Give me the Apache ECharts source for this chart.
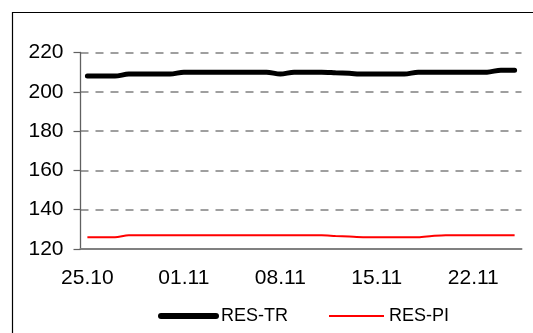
<!DOCTYPE html>
<html>
<head>
<meta charset="utf-8">
<script src="https://cdn.jsdelivr.net/npm/echarts@6/dist/echarts.min.js"></script>
<style>
  html, body { margin: 0; padding: 0; background: #fff; }
  #chart { width: 533px; height: 333px; }
</style>
</head>
<body>
<div id="chart"></div>
<script>
// Daily readings, 25 Oct – 25 Nov
const days = [
  '25.10','26.10','27.10','28.10','29.10','30.10','31.10',
  '01.11','02.11','03.11','04.11','05.11','06.11','07.11',
  '08.11','09.11','10.11','11.11','12.11','13.11','14.11',
  '15.11','16.11','17.11','18.11','19.11','20.11','21.11',
  '22.11','23.11','24.11','25.11'
];
const resTR = [
  208, 208, 208, 209, 209, 209, 209,
  210, 210, 210, 210, 210, 210, 210,
  209, 210, 210, 210, 209.7, 209.4, 209,
  209, 209, 209, 210, 210, 210, 210,
  210, 210, 211, 211
];
const resPI = [
  126, 126, 126, 127, 127, 127, 127,
  127, 127, 127, 127, 127, 127, 127,
  127, 127, 127, 127, 126.6, 126.3, 126,
  126, 126, 126, 126, 126.6, 127, 127,
  127, 127, 127, 127
];
const yTicks = { min: 120, max: 220, step: 20 };

const FONT = 'Liberation Sans, Arial, sans-serif';
const chart = echarts.init(document.getElementById('chart'));

chart.setOption({
  animation: false,
  backgroundColor: '#ffffff',
  graphic: [{
    type: 'rect',
    shape: { x: 12.5, y: 12.5, width: 560, height: 400 },
    style: { fill: 'none', stroke: '#000', lineWidth: 1.2 },
    silent: true
  }],
  grid: { left: 80.5, right: 11.5, top: 52.5, bottom: 84 },
  legend: {
    left: 153,
    top: 302,
    itemWidth: 55,
    itemHeight: 22,
    itemGap: 40,
    textStyle: { fontFamily: FONT, fontSize: 18, color: '#000' },
    data: [
      { name: 'RES-TR', itemStyle: { opacity: 0 }, lineStyle: { width: 6, cap: 'round', color: '#000' } },
      { name: 'RES-PI', itemStyle: { opacity: 0 }, lineStyle: { width: 2, color: '#ff0000' } }
    ]
  },
  xAxis: {
    type: 'category',
    data: days,
    boundaryGap: true,
    axisLine: { lineStyle: { color: '#808080', width: 2 } },
    axisTick: { interval: 6, length: 6, lineStyle: { color: '#000', width: 1.2 } },
    axisLabel: {
      interval: 6,
      margin: 19,
      fontFamily: FONT,
      fontSize: 21,
      color: '#000'
    },
    splitLine: { show: false }
  },
  yAxis: {
    type: 'value',
    min: yTicks.min,
    max: yTicks.max,
    interval: yTicks.step,
    axisLine: { show: true, lineStyle: { color: '#606060', width: 1.3 } },
    axisTick: { show: true, length: 7, lineStyle: { color: '#606060', width: 1.2 } },
    axisLabel: {
      margin: 17,
      fontFamily: FONT,
      fontSize: 21,
      color: '#000'
    },
    splitLine: {
      show: true,
      lineStyle: { color: '#808080', width: 1.6, type: [8, 7] }
    }
  },
  series: [
    {
      name: 'RES-TR',
      type: 'line',
      data: resTR,
      smooth: 0.3,
      symbol: 'none',
      lineStyle: { color: '#000', width: 5, cap: 'round' },
      itemStyle: { color: '#000' }
    },
    {
      name: 'RES-PI',
      type: 'line',
      data: resPI,
      smooth: 0.3,
      symbol: 'none',
      lineStyle: { color: '#ff0000', width: 2 },
      itemStyle: { color: '#ff0000' }
    }
  ]
});
</script>
</body>
</html>
